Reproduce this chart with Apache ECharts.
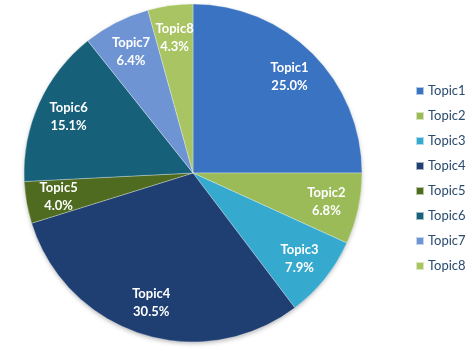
<!DOCTYPE html>
<html>
<head>
<meta charset="utf-8">
<script src="https://cdn.jsdelivr.net/npm/echarts@6/dist/echarts.min.js"></script>
<style>
  html, body { margin: 0; padding: 0; background: #fff; }
  #chart { width: 472px; height: 351px; }
</style>
</head>
<body>
<div id="chart"></div>
<script>
// data
var topics = ['Topic1', 'Topic2', 'Topic3', 'Topic4', 'Topic5', 'Topic6', 'Topic7', 'Topic8'];
var shares = [25.0, 6.8, 7.9, 30.5, 4.0, 15.1, 6.4, 4.3];
var colors = ['#3a73c1', '#9bbb59', '#36a9cf', '#1f3f72', '#4f6b1f', '#16607a', '#6f94d3', '#a8c463'];

var chart = echarts.init(document.getElementById('chart'), null, { renderer: 'canvas' });

var pieData = topics.map(function (t, i) {
  return { name: t, value: shares[i], itemStyle: { color: colors[i] } };
});

var option = {
  animation: false,
  color: colors,
  legend: {
    orient: 'vertical',
    left: 410,
    top: 78,
    icon: 'rect',
    itemWidth: 8,
    itemHeight: 8,
    itemGap: 9,
    data: topics,
    textStyle: { fontFamily: 'Lato', fontSize: 13, color: '#2a4a6e', lineHeight: 16, padding: [0, 0, 0, -1] }
  },
  series: [
    {
      // soft shadow under the whole pie
      type: 'pie',
      center: [193, 173],
      radius: [0, 168],
      silent: true,
      z: 1,
      label: { show: false },
      labelLine: { show: false },
      legendHoverLink: false,
      itemStyle: { color: '#fff', shadowBlur: 5, shadowOffsetY: 2, shadowColor: 'rgba(0,0,0,0.35)' },
      data: [{ name: '_shadow', value: 1 }]
    },
    {
      // the slices
      type: 'pie',
      center: [193, 173],
      radius: [0, 169],
      startAngle: 90,
      clockwise: true,
      silent: true,
      z: 2,
      label: { show: false },
      labelLine: { show: false },
      itemStyle: { borderColor: 'rgba(255,255,255,0.6)', borderWidth: 0.5 },
      data: pieData
    },
    {
      // transparent ring only to place labels further out
      type: 'pie',
      center: [193, 173],
      radius: [98, 169],
      startAngle: 90,
      clockwise: true,
      silent: true,
      z: 3,
      itemStyle: { color: 'rgba(0,0,0,0)' },
      label: {
        show: true,
        position: 'inside',
        color: '#fff',
        fontFamily: 'Lato',
        fontWeight: 'bold',
        fontSize: 13,
        lineHeight: 18,
        formatter: function (p) { return p.name + '\n' + p.value.toFixed(1) + '%'; }
      },
      labelLine: { show: false },
      data: topics.map(function (t, i) { return { name: t, value: shares[i] }; })
    }
  ]
};

chart.setOption(option);
</script>
</body>
</html>
